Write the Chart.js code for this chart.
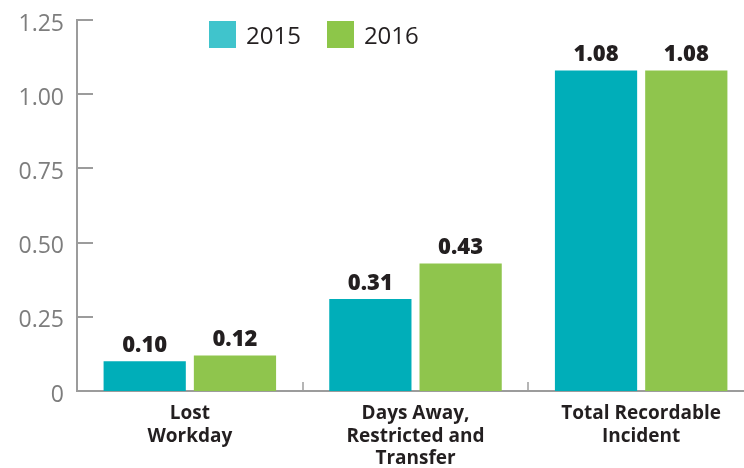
<!DOCTYPE html>
<html>
<head>
<meta charset="utf-8">
<script src="https://cdn.jsdelivr.net/npm/chart.js@4/dist/chart.umd.min.js"></script>
<style>
  html, body { margin:0; padding:0; background:#fff; overflow:hidden; width:744px; height:468px; }
  #wrap { position:relative; width:754px; height:468px; }
  #legend { position:absolute; left:209px; top:18px; display:flex; align-items:center; font-family:"Open Sans", sans-serif; font-size:24px; color:#231F20; }
  .item { display:flex; align-items:center; margin-right:26px; }
  .sw { width:27px; height:27px; margin-right:10px; }
</style>
</head>
<body>
<div id="wrap">
  <canvas id="c" width="754" height="468"></canvas>
  <div id="legend"></div>
</div>
<script>
const categories = [["Lost", "Workday"], ["Days Away,", "Restricted and", "Transfer"], ["Total Recordable", "Incident"]];
const seriesNames = ["2015", "2016"];
const values2015 = [0.10, 0.31, 1.08];
const values2016 = [0.12, 0.43, 1.08];
const yTickLabels = ["0", "0.25", "0.50", "0.75", "1.00", "1.25"];

const barColors = ["#00AEB9", "#8FC54D"];
const legendColors = ["#40C4CC", "#8DC649"];
const axisColor = "#9c9c9c";
const textColor = "#231F20";
const FONT = "'Open Sans', sans-serif";

// HTML legend
const lg = document.getElementById('legend');
seriesNames.forEach((n, i) => {
  const it = document.createElement('div'); it.className = 'item';
  const sw = document.createElement('div'); sw.className = 'sw'; sw.style.background = legendColors[i];
  const tx = document.createElement('span'); tx.textContent = n;
  it.appendChild(sw); it.appendChild(tx); lg.appendChild(it);
});

const decorPlugin = {
  id: 'decor',
  afterDatasetsDraw(chart) {
    const ctx = chart.ctx;
    const ca = chart.chartArea;
    const y = chart.scales.y, x = chart.scales.x;
    ctx.save();
    ctx.strokeStyle = axisColor;
    ctx.lineWidth = 2;
    y.ticks.forEach(t => {
      if (t.value === 0) return;
      const py = Math.round(y.getPixelForValue(t.value));
      ctx.beginPath(); ctx.moveTo(ca.left, py); ctx.lineTo(ca.left + 16, py); ctx.stroke();
    });
    ctx.lineWidth = 1.5;
    for (let i = 0; i < categories.length - 1; i++) {
      const px = Math.round((x.getPixelForValue(i) + x.getPixelForValue(i + 1)) / 2);
      ctx.beginPath(); ctx.moveTo(px, ca.bottom); ctx.lineTo(px, ca.bottom - 9); ctx.stroke();
    }
    ctx.fillStyle = textColor;
    ctx.font = "800 22px " + FONT;
    ctx.textAlign = 'center';
    ctx.textBaseline = 'alphabetic';
    chart.data.datasets.forEach((ds, di) => {
      const meta = chart.getDatasetMeta(di);
      meta.data.forEach((bar, i) => {
        ctx.fillText(ds.data[i].toFixed(2), bar.x, bar.y - 9);
      });
    });
    ctx.restore();
  }
};

new Chart(document.getElementById('c'), {
  type: 'bar',
  data: {
    labels: categories,
    datasets: [
      { label: seriesNames[0], data: values2015, backgroundColor: barColors[0] },
      { label: seriesNames[1], data: values2016, backgroundColor: barColors[1] }
    ]
  },
  options: {
    responsive: false,
    animation: false,
    devicePixelRatio: 1,
    categoryPercentage: 0.8,
    barPercentage: 0.911,
    layout: { padding: { top: 20, right: 0, left: 0, bottom: 0 } },
    plugins: { legend: { display: false }, tooltip: { enabled: false } },
    scales: {
      x: {
        grid: { display: false, drawTicks: false },
        border: { display: true, color: axisColor, width: 2 },
        ticks: {
          color: textColor,
          font: { family: FONT, size: 19, weight: '700', lineHeight: 1.2 },
          padding: 11,
          maxRotation: 0, autoSkip: false
        },
        afterFit(s) { s.height = 77; s.paddingLeft = 0; s.paddingRight = 0; }
      },
      y: {
        min: 0, max: 1.25,
        grid: { display: false, drawTicks: false },
        border: { display: true, color: axisColor, width: 2 },
        ticks: {
          stepSize: 0.25,
          color: '#7d7d7d',
          font: { family: FONT, size: 23, weight: '400' },
          padding: 13,
          labelOffset: 4,
          callback: (v, i) => yTickLabels[i]
        },
        afterFit(s) { s.width = 77; s.paddingTop = 0; s.paddingBottom = 0; }
      }
    }
  },
  plugins: [decorPlugin]
});
</script>
</body>
</html>
